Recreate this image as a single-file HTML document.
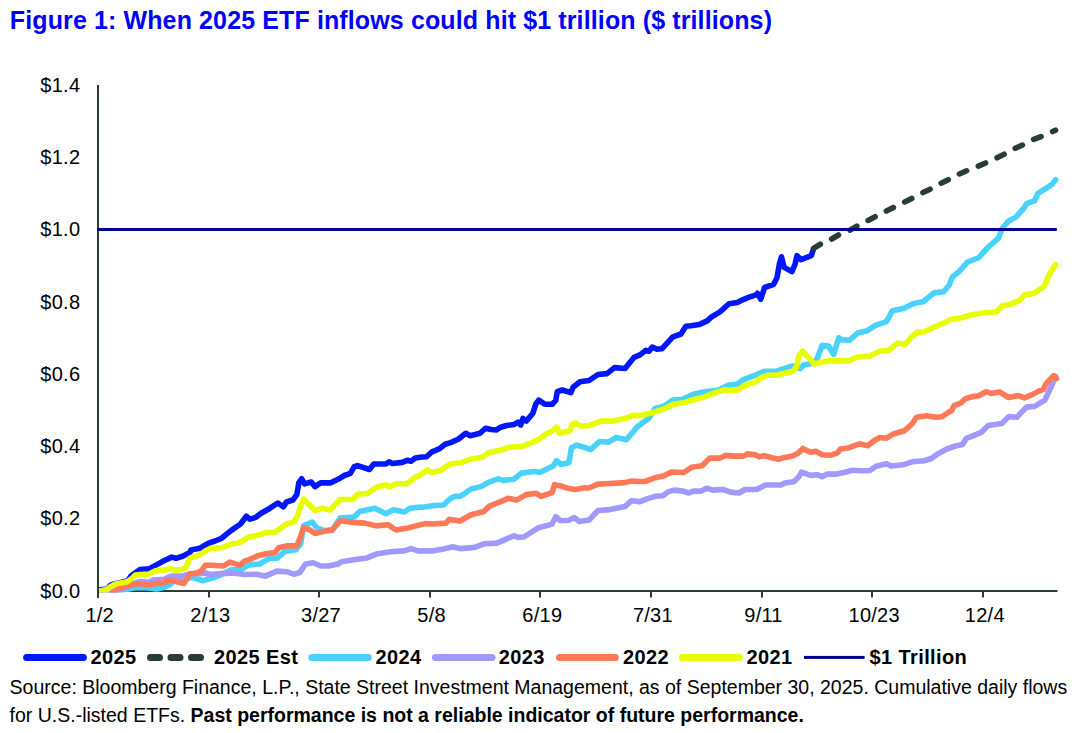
<!DOCTYPE html>
<html><head><meta charset="utf-8"><title>Figure 1: When 2025 ETF inflows could hit $1 trillion</title>
<style>
html,body{margin:0;padding:0;background:#fff;}
body{width:1088px;height:733px;overflow:hidden;}
svg{display:block;}
text{font-family:"Liberation Sans",Arial,sans-serif;}
.title{font-size:25px;font-weight:bold;fill:#0000ff;letter-spacing:0.12px;}
.ax{font-size:20px;fill:#000;letter-spacing:0.25px;}
.lg{font-size:20px;font-weight:bold;fill:#000;letter-spacing:0.38px;}
.src{font-size:19.5px;fill:#000;}
</style></head>
<body>
<svg width="1088" height="733" viewBox="0 0 1088 733">
<defs><clipPath id="pc"><rect x="98.2" y="60" width="970" height="532.5"/></clipPath></defs>
<rect width="1088" height="733" fill="#fff"/>
<text x="9.8" y="29" class="title">Figure 1: When 2025 ETF inflows could hit $1 trillion ($ trillions)</text>
<text x="80.3" y="597.6" class="ax" text-anchor="end">$0.0</text>
<text x="80.3" y="525.3" class="ax" text-anchor="end">$0.2</text>
<text x="80.3" y="453.0" class="ax" text-anchor="end">$0.4</text>
<text x="80.3" y="380.8" class="ax" text-anchor="end">$0.6</text>
<text x="80.3" y="308.5" class="ax" text-anchor="end">$0.8</text>
<text x="80.3" y="236.2" class="ax" text-anchor="end">$1.0</text>
<text x="80.3" y="163.9" class="ax" text-anchor="end">$1.2</text>
<text x="80.3" y="91.6" class="ax" text-anchor="end">$1.4</text>
<text x="99.7" y="621.5" class="ax" text-anchor="middle">1/2</text>
<text x="210.3" y="621.5" class="ax" text-anchor="middle">2/13</text>
<text x="321.0" y="621.5" class="ax" text-anchor="middle">3/27</text>
<text x="431.6" y="621.5" class="ax" text-anchor="middle">5/8</text>
<text x="542.3" y="621.5" class="ax" text-anchor="middle">6/19</text>
<text x="652.9" y="621.5" class="ax" text-anchor="middle">7/31</text>
<text x="763.5" y="621.5" class="ax" text-anchor="middle">9/11</text>
<text x="874.2" y="621.5" class="ax" text-anchor="middle">10/23</text>
<text x="984.8" y="621.5" class="ax" text-anchor="middle">12/4</text>
<rect x="97" y="590" width="960.5" height="2" fill="#263f32"/>
<rect x="208" y="590" width="2" height="7.5" fill="#263f32"/>
<rect x="318" y="590" width="2" height="7.5" fill="#263f32"/>
<rect x="429" y="590" width="2" height="7.5" fill="#263f32"/>
<rect x="539" y="590" width="2" height="7.5" fill="#263f32"/>
<rect x="650" y="590" width="2" height="7.5" fill="#263f32"/>
<rect x="761" y="590" width="2" height="7.5" fill="#263f32"/>
<rect x="871" y="590" width="2" height="7.5" fill="#263f32"/>
<rect x="982" y="590" width="2" height="7.5" fill="#263f32"/>
<g clip-path="url(#pc)">
<path d="M99.6,589.8 L107.4,589.1 L110.2,585.4 L114.3,584.0 L121.0,582.5 L128.1,580.3 L130.8,576.2 L135.0,573.0 L140.0,569.6 L149.0,568.9 L155.0,565.6 L164.0,560.8 L171.8,557.1 L176.0,558.3 L183.2,556.0 L190.0,552.4 L191.0,549.9 L199.8,548.2 L208.6,543.2 L215.0,541.0 L221.5,538.3 L231.0,530.6 L240.5,524.0 L246.3,516.3 L250.0,519.2 L255.8,517.3 L261.5,513.0 L269.2,508.7 L277.8,503.0 L283.5,506.8 L286.4,502.0 L293.0,500.0 L296.9,494.4 L298.8,482.9 L301.6,478.7 L304.5,483.9 L311.2,482.0 L315.0,486.7 L320.7,482.9 L330.3,482.9 L340.0,478.2 L344.4,475.5 L350.4,473.3 L354.2,466.7 L357.5,465.6 L369.5,469.5 L373.8,464.0 L385.8,464.0 L389.1,461.8 L392.4,463.5 L402.2,462.4 L407.7,460.2 L410.9,461.3 L415.3,458.0 L420.0,457.3 L426.5,456.8 L432.0,451.8 L439.6,448.6 L445.1,444.2 L450.6,442.6 L458.2,439.3 L465.8,433.3 L470.2,435.8 L480.0,433.3 L485.5,428.2 L490.9,429.5 L496.4,430.0 L500.0,427.5 L506.5,425.5 L514.2,424.4 L518.0,422.2 L520.7,424.9 L522.9,418.4 L526.2,421.1 L532.7,413.5 L536.0,403.7 L538.7,400.2 L544.7,404.2 L552.4,404.2 L555.7,400.4 L557.3,391.7 L562.2,390.0 L570.9,392.7 L573.1,387.3 L580.0,381.8 L589.0,380.5 L598.0,374.5 L607.0,373.6 L614.5,367.6 L625.0,368.5 L634.0,357.4 L640.0,354.9 L645.7,350.4 L649.0,351.2 L652.3,347.1 L656.4,349.1 L662.1,348.7 L672.8,336.9 L681.0,334.0 L685.9,326.2 L690.8,325.8 L699.0,324.6 L707.2,320.9 L711.3,317.2 L720.0,311.9 L721.9,310.2 L729.0,303.7 L737.4,302.4 L742.6,299.8 L749.1,297.2 L756.2,294.9 L757.5,293.3 L760.7,299.2 L764.6,287.5 L773.7,284.3 L777.0,277.8 L779.5,263.5 L781.5,256.8 L784.1,267.4 L791.9,271.6 L795.1,264.2 L797.0,255.7 L800.9,259.6 L811.3,255.7 L813.2,249.9" stroke="#0016ff" fill="none" stroke-width="5.6" stroke-linejoin="round" stroke-linecap="round"/>
<path d="M813.5,248.3 L823.4,242.4 L829.8,240.0 L841.8,233.2 L847.7,231.4 L859.7,224.5 L865.7,221.7 L878.0,215.3 L883.6,212.5 L896.5,206.0 L902.0,203.3 L913.6,197.5 L920.0,194.0 L932.1,188.2 L937.9,184.7 L950.1,178.9 L955.9,175.5 L968.0,170.2 L975.0,167.5 L986.6,162.6 L994.0,159.3 L1004.8,153.9 L1012.2,149.7 L1023.0,144.8 L1030.4,140.6 L1041.2,136.5 L1049.0,133.2 L1055.5,130.2" stroke="#273f33" fill="none" stroke-width="5.6" stroke-linecap="round" stroke-dasharray="7.9 12.6"/>
<path d="M110.0,594.0 L115.7,590.9 L127.2,589.3 L136.4,587.5 L145.0,587.8 L149.0,588.0 L156.8,589.0 L165.2,587.0 L170.0,584.5 L174.0,580.5 L180.0,578.5 L184.4,579.8 L190.0,577.6 L192.0,577.4 L203.0,580.7 L209.7,578.5 L215.0,577.4 L221.5,574.5 L231.0,569.8 L240.5,569.8 L248.2,565.0 L259.6,564.0 L269.2,558.3 L276.8,558.3 L284.5,551.6 L295.9,549.7 L300.7,544.0 L303.5,525.9 L312.1,522.0 L316.9,527.8 L324.5,530.6 L332.2,530.6 L340.0,518.0 L354.2,517.0 L359.6,511.5 L374.9,508.2 L385.8,513.7 L393.5,509.8 L404.4,512.0 L409.8,508.2 L420.0,507.1 L422.7,507.3 L434.3,505.5 L443.6,505.0 L450.5,498.5 L455.0,496.4 L460.0,496.4 L464.9,493.3 L471.0,489.0 L480.9,486.6 L488.3,482.3 L498.1,478.8 L503.0,480.4 L514.1,479.2 L521.4,473.1 L533.7,471.5 L539.9,472.2 L546.0,469.4 L553.4,465.8 L556.5,460.6 L561.2,464.5 L568.9,462.7 L571.5,447.7 L576.7,445.1 L585.0,447.7 L590.5,449.6 L599.5,441.5 L608.5,442.1 L616.0,437.6 L626.5,439.7 L637.0,427.1 L649.0,418.1 L655.0,408.5 L664.0,406.1 L673.0,400.1 L682.0,399.5 L694.0,394.1 L705.0,391.8 L717.9,390.2 L728.2,385.3 L737.2,384.0 L742.3,380.2 L753.9,375.7 L764.2,371.2 L775.8,371.4 L782.2,369.2 L792.5,366.0 L800.2,368.6 L804.1,364.7 L811.8,363.5 L817.0,359.0 L822.1,345.4 L828.5,346.1 L833.7,354.4 L838.8,337.7 L841.4,339.6 L849.6,340.3 L857.7,333.0 L867.3,330.7 L875.5,325.3 L886.4,321.6 L892.5,310.7 L904.1,308.2 L913.7,303.4 L923.2,301.7 L934.1,292.9 L943.7,291.8 L949.2,285.0 L952.3,277.2 L959.3,271.4 L967.4,262.1 L979.0,257.5 L987.1,248.2 L998.7,237.8 L1002.2,228.5 L1008.0,221.5 L1016.2,216.9 L1024.3,207.6 L1026.6,203.6 L1034.7,200.6 L1037.7,193.7 L1047.5,187.4 L1052.1,184.4 L1055.6,179.7" stroke="#4ad2fe" fill="none" stroke-width="5.6" stroke-linejoin="round" stroke-linecap="round"/>
<path d="M99.0,592.0 L115.0,591.0 L125.0,588.0 L133.0,584.0 L140.0,581.5 L149.0,582.4 L153.2,580.0 L164.0,579.4 L171.2,576.1 L182.0,576.1 L190.0,573.7 L199.8,573.6 L205.3,573.0 L210.0,574.5 L221.5,573.6 L232.9,573.0 L244.4,574.5 L255.8,574.2 L265.4,576.1 L276.8,571.1 L286.4,571.7 L294.0,574.2 L299.7,572.6 L305.5,564.0 L313.1,562.7 L320.7,566.0 L328.4,566.0 L337.9,564.0 L341.6,561.8 L355.5,559.5 L367.1,557.9 L376.3,554.1 L390.3,551.8 L404.2,550.9 L411.1,548.6 L418.1,550.9 L432.0,550.9 L443.6,549.0 L452.8,546.7 L460.0,548.6 L474.7,547.4 L484.6,543.7 L496.9,543.1 L505.5,539.4 L514.1,535.7 L517.7,537.3 L523.9,537.0 L538.6,527.7 L552.1,524.1 L555.8,516.7 L560.0,520.4 L561.2,520.7 L568.9,520.2 L574.1,517.6 L579.3,521.5 L589.0,520.1 L598.0,510.5 L610.0,509.6 L625.0,506.6 L631.3,500.8 L640.0,501.6 L647.6,498.7 L655.3,496.3 L662.9,495.8 L668.6,491.6 L674.4,490.1 L683.0,491.1 L688.7,493.0 L693.5,491.1 L701.1,491.1 L706.8,488.2 L712.6,490.1 L720.0,489.6 L723.0,489.5 L730.7,492.1 L739.1,493.0 L744.9,489.5 L756.5,489.5 L765.5,485.0 L780.9,485.0 L784.8,483.1 L793.8,481.8 L798.9,476.7 L801.5,472.2 L810.5,475.4 L817.0,474.7 L822.1,476.7 L827.2,474.1 L836.3,474.1 L845.0,472.2 L852.0,470.2 L861.0,470.8 L870.0,470.5 L876.0,466.3 L886.5,463.7 L891.0,466.0 L903.0,464.8 L912.0,461.8 L924.0,460.7 L931.5,458.5 L937.5,454.0 L946.5,449.2 L955.5,446.0 L962.3,444.6 L966.4,438.4 L981.4,432.3 L988.2,425.5 L1001.8,423.4 L1008.7,416.6 L1016.8,417.3 L1026.4,407.1 L1034.6,406.4 L1040.0,403.0 L1044.8,400.2 L1049.6,390.0 L1053.7,381.1 L1055.7,376.4" stroke="#a199ff" fill="none" stroke-width="5.6" stroke-linejoin="round" stroke-linecap="round"/>
<path d="M111.0,594.5 L113.5,592.3 L118.0,588.6 L122.6,587.2 L131.8,584.9 L136.0,584.0 L140.0,583.7 L149.0,584.7 L158.0,583.3 L165.2,582.7 L167.0,580.3 L176.0,581.5 L183.8,583.5 L187.4,578.0 L190.0,574.0 L196.5,573.0 L200.9,571.4 L205.3,565.3 L210.8,565.3 L223.4,566.0 L230.0,562.1 L239.6,565.4 L244.4,561.2 L250.1,559.3 L257.7,555.8 L267.3,553.5 L274.9,552.6 L278.7,547.8 L286.4,545.9 L296.9,545.9 L300.7,536.4 L303.5,527.8 L309.3,529.7 L315.0,533.5 L322.6,531.6 L332.2,529.7 L340.4,520.8 L353.2,522.4 L364.8,523.1 L376.3,525.9 L387.9,524.7 L396.0,530.0 L408.8,527.7 L425.0,523.6 L432.0,524.0 L445.9,523.1 L449.3,519.4 L460.0,521.0 L471.0,514.8 L483.3,511.8 L489.5,506.2 L503.0,500.7 L507.9,498.3 L516.5,500.1 L526.3,494.6 L536.2,493.3 L541.1,496.4 L552.1,492.7 L554.6,484.7 L558.3,485.4 L561.2,486.0 L568.9,488.6 L575.4,489.6 L585.0,487.8 L589.0,488.0 L598.0,484.1 L610.0,483.5 L625.0,482.6 L631.0,481.1 L640.0,481.5 L644.8,481.5 L655.3,477.7 L663.9,475.8 L671.5,472.0 L683.9,472.5 L691.6,467.2 L702.1,465.8 L709.7,458.1 L720.0,458.1 L725.6,455.4 L734.6,456.1 L743.6,456.1 L747.5,453.9 L755.2,454.8 L759.0,456.7 L764.2,455.7 L771.9,457.8 L778.4,459.3 L784.8,457.4 L792.5,456.1 L797.7,453.5 L802.8,448.4 L810.5,452.2 L815.7,451.3 L822.1,454.8 L831.1,455.2 L837.5,452.9 L840.1,449.3 L849.0,447.7 L859.5,443.8 L867.7,445.7 L874.5,440.5 L879.7,437.5 L886.5,438.2 L894.0,433.7 L904.5,430.7 L912.0,424.0 L916.5,417.2 L927.0,415.7 L936.0,417.2 L942.0,416.8 L948.0,412.7 L951.7,410.5 L954.1,405.7 L960.9,403.0 L965.0,398.9 L971.8,396.8 L978.6,395.7 L986.2,391.7 L990.9,393.4 L999.8,392.1 L1008.7,397.5 L1018.2,395.5 L1024.4,397.9 L1033.2,394.1 L1038.7,391.1 L1043.5,389.3 L1045.5,384.6 L1051.0,378.4 L1053.7,375.7 L1056.4,378.4" stroke="#ff7857" fill="none" stroke-width="5.6" stroke-linejoin="round" stroke-linecap="round"/>
<path d="M98.7,590.9 L107.0,589.5 L110.2,586.8 L115.7,584.0 L127.2,581.7 L131.8,578.5 L135.4,575.1 L140.0,574.6 L149.0,574.0 L155.0,570.9 L164.0,570.1 L170.0,568.7 L176.0,570.3 L183.2,569.3 L186.0,567.5 L188.0,563.0 L190.0,558.0 L191.0,557.6 L199.8,554.8 L205.3,551.0 L210.8,548.2 L221.5,547.8 L231.0,544.0 L238.6,543.0 L248.2,537.3 L259.6,534.8 L265.4,532.5 L274.9,532.5 L286.4,524.0 L294.0,522.0 L297.8,515.4 L300.7,505.8 L303.5,499.1 L309.3,504.9 L315.0,510.6 L322.6,508.1 L330.3,510.0 L340.0,499.5 L352.0,499.5 L358.6,494.0 L367.3,493.5 L376.0,487.5 L385.8,484.7 L389.1,486.9 L396.8,483.7 L406.6,483.7 L416.4,476.6 L420.0,475.3 L427.6,469.8 L430.9,472.6 L439.6,470.9 L450.6,463.8 L461.5,462.8 L469.1,459.5 L482.2,457.3 L488.8,452.4 L500.0,450.2 L504.2,449.0 L509.4,447.2 L522.3,446.4 L537.9,439.9 L545.8,434.2 L552.4,430.9 L556.8,427.1 L559.5,433.1 L569.8,430.9 L572.0,424.9 L575.3,422.8 L580.0,426.0 L585.0,425.7 L589.0,425.6 L601.0,421.1 L613.0,421.1 L628.0,417.5 L634.0,415.1 L640.0,415.7 L652.0,412.7 L664.0,409.1 L673.0,404.6 L685.0,402.5 L694.0,399.5 L705.0,396.9 L712.7,393.7 L724.3,389.8 L730.7,390.5 L738.5,389.8 L743.6,386.0 L755.2,382.1 L761.6,377.6 L768.1,375.0 L777.1,375.3 L782.2,373.8 L792.5,371.4 L796.4,367.3 L798.9,355.7 L802.8,351.2 L808.0,357.0 L814.4,364.1 L820.8,362.2 L828.5,360.9 L838.8,360.6 L848.2,361.1 L856.4,357.3 L870.0,356.0 L879.6,351.2 L889.1,350.2 L897.3,343.0 L905.5,344.4 L911.0,337.1 L917.8,332.1 L924.6,331.7 L934.1,327.0 L943.7,323.2 L950.5,319.4 L961.6,317.8 L973.2,314.4 L984.8,312.7 L996.4,312.0 L1002.2,305.8 L1010.4,304.4 L1019.6,300.4 L1024.3,295.1 L1033.6,293.5 L1044.0,286.5 L1049.8,273.7 L1055.6,264.5" stroke="#e8ff00" fill="none" stroke-width="5.6" stroke-linejoin="round" stroke-linecap="round"/>
</g>
<rect x="97" y="85" width="2" height="513" fill="#263f32"/>
<rect x="97.2" y="228" width="959.6" height="3" fill="#000090"/>
<line x1="26.6" y1="657.4" x2="83.4" y2="657.4" stroke="#0016ff" stroke-width="7" stroke-linecap="round"/>
<line x1="150.5" y1="657.4" x2="201" y2="657.4" stroke="#273f33" stroke-width="7" stroke-linecap="round" stroke-dasharray="9 11.5"/>
<line x1="311.9" y1="657.4" x2="368.2" y2="657.4" stroke="#4ad2fe" stroke-width="7" stroke-linecap="round"/>
<line x1="435.4" y1="657.4" x2="492" y2="657.4" stroke="#a199ff" stroke-width="7" stroke-linecap="round"/>
<line x1="559.5" y1="657.4" x2="615.3" y2="657.4" stroke="#ff7857" stroke-width="7" stroke-linecap="round"/>
<line x1="682.3" y1="657.4" x2="739.2" y2="657.4" stroke="#e8ff00" stroke-width="7" stroke-linecap="round"/>
<rect x="804" y="655.9" width="60.6" height="3" fill="#000090"/>
<text x="90.6" y="663.6" class="lg">2025</text>
<text x="214.1" y="663.6" class="lg">2025 Est</text>
<text x="375.4" y="663.6" class="lg">2024</text>
<text x="498.8" y="663.6" class="lg">2023</text>
<text x="623.0" y="663.6" class="lg">2022</text>
<text x="746.6" y="663.6" class="lg">2021</text>
<text x="869.6" y="663.6" class="lg">$1 Trillion</text>
<text x="9.6" y="693.6" class="src">Source: Bloomberg Finance, L.P., State Street Investment Management, as of September 30, 2025. Cumulative daily flows</text>
<text x="9.6" y="721.6" class="src">for U.S.-listed ETFs. <tspan font-weight="bold">Past performance is not a reliable indicator of future performance.</tspan></text>
</svg>
</body></html>
